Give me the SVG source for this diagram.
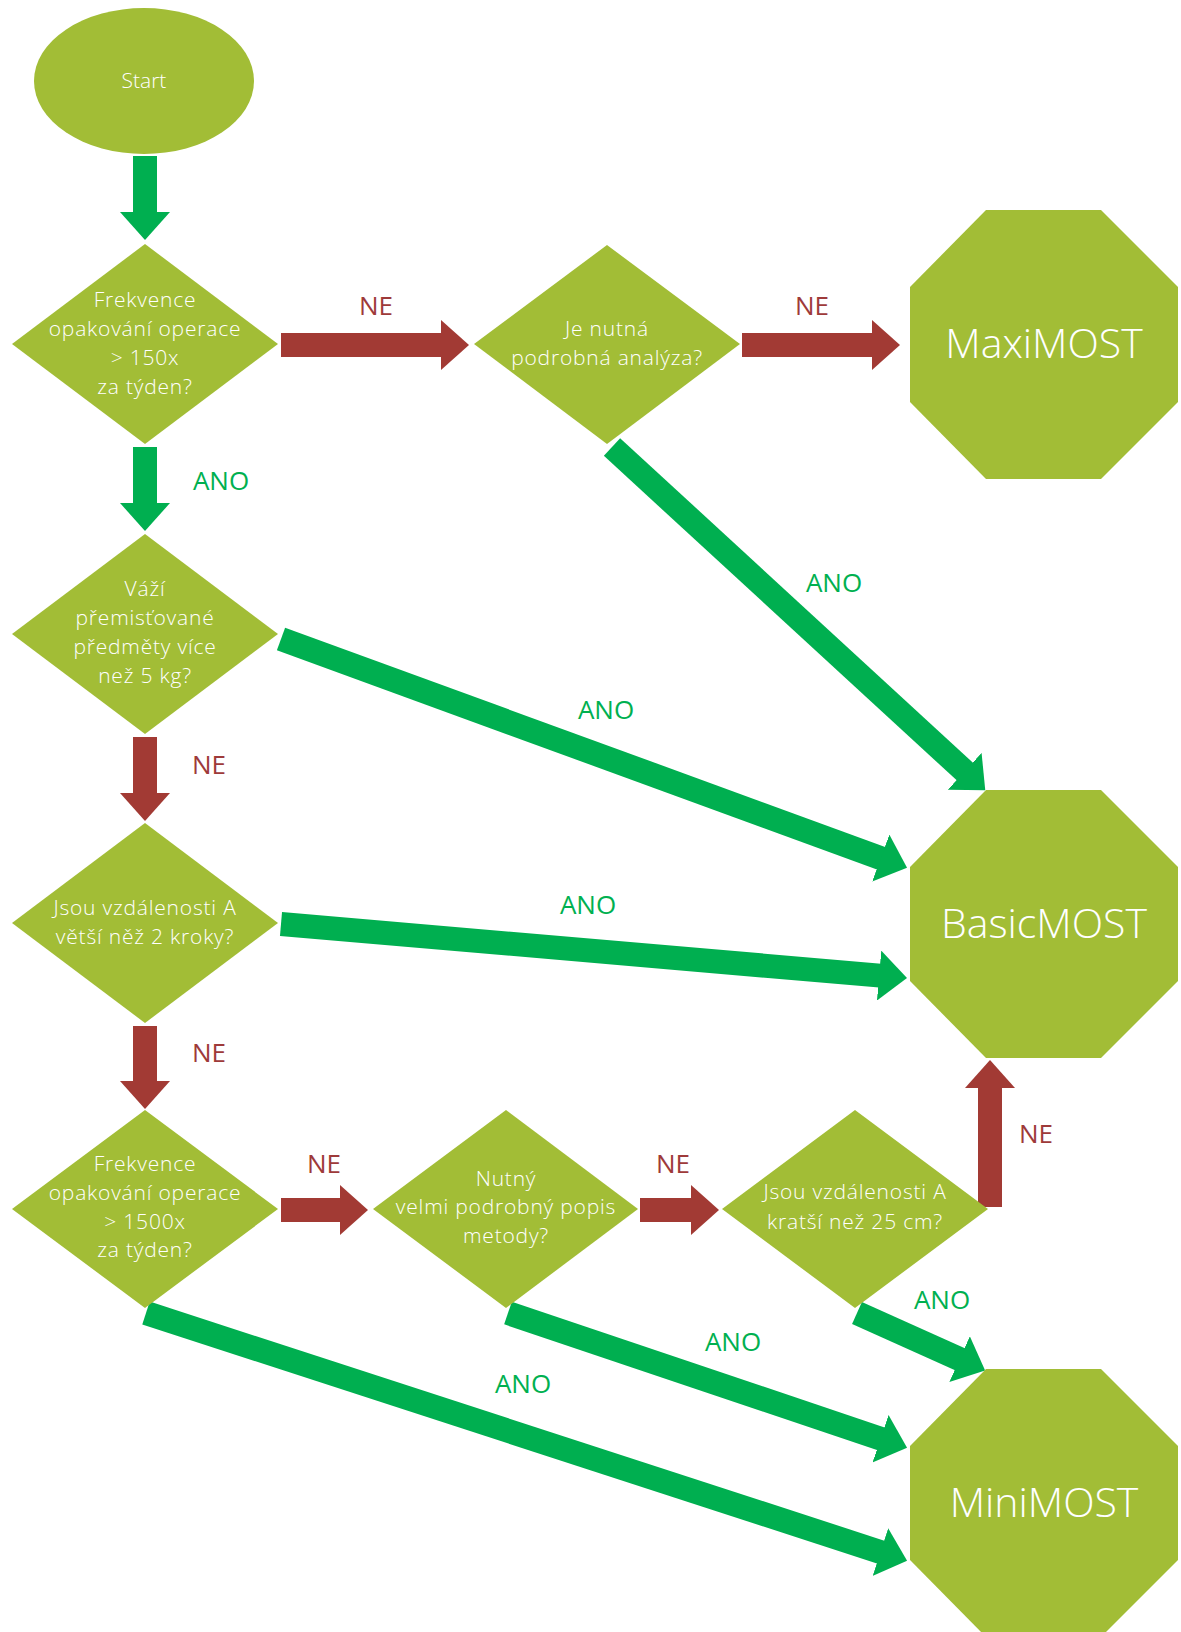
<svg xmlns="http://www.w3.org/2000/svg" width="1181" height="1632" viewBox="0 0 1181 1632">
<style>
.node{fill:#A2BD36}
.t{font-family:"Open Sans","Noto Sans",sans-serif;fill:#ffffff;text-anchor:middle;font-weight:350}
.q{font-size:21px;letter-spacing:0.8px}
.big{font-size:41px;font-weight:300}
.g{stroke:#00AF50;stroke-width:24;fill:none}
.r{stroke:#A23A34;stroke-width:24;fill:none}
.lbl{font-family:"Open Sans","Noto Sans",sans-serif;font-size:26px;text-anchor:middle;font-weight:400}
.ano{fill:#00B050}
.ne{fill:#9E3A3A}
</style>
<defs>
<marker id="hg" markerUnits="userSpaceOnUse" markerWidth="28" markerHeight="50" viewBox="0 0 28 50" refX="1" refY="25" orient="auto"><path d="M0,0 L28,25 L0,50 Z" fill="#00AF50"/></marker>
<marker id="hr" markerUnits="userSpaceOnUse" markerWidth="28" markerHeight="50" viewBox="0 0 28 50" refX="1" refY="25" orient="auto"><path d="M0,0 L28,25 L0,50 Z" fill="#A23A34"/></marker>
</defs>
<g id="connectors">
<line class="g" x1="145" y1="156" x2="145" y2="213" marker-end="url(#hg)"/>
<line class="r" x1="281" y1="345" x2="442" y2="345" marker-end="url(#hr)"/>
<line class="r" x1="742" y1="345" x2="873" y2="345" marker-end="url(#hr)"/>
<line class="g" x1="145" y1="447" x2="145" y2="504" marker-end="url(#hg)"/>
<line class="r" x1="145" y1="737" x2="145" y2="794" marker-end="url(#hr)"/>
<line class="r" x1="145" y1="1026" x2="145" y2="1082" marker-end="url(#hr)"/>
<line class="r" x1="281" y1="1210" x2="341" y2="1210" marker-end="url(#hr)"/>
<line class="r" x1="640" y1="1210" x2="692" y2="1210" marker-end="url(#hr)"/>
<line class="r" x1="990" y1="1207" x2="990" y2="1087" marker-end="url(#hr)"/>
<line class="g" x1="612" y1="447" x2="965.4" y2="772" marker-end="url(#hg)"/>
<line class="g" x1="281" y1="639" x2="881.7" y2="858.4" marker-end="url(#hg)"/>
<line class="g" x1="281" y1="924" x2="880.1" y2="975.6" marker-end="url(#hg)"/>
<line class="g" x1="146" y1="1313" x2="881.4" y2="1552.3" marker-end="url(#hg)"/>
<line class="g" x1="508" y1="1313" x2="881.5" y2="1439" marker-end="url(#hg)"/>
<line class="g" x1="857" y1="1313" x2="960.5" y2="1359.5" marker-end="url(#hg)"/>
<text class="lbl ne" x="376" y="315">NE</text>
<text class="lbl ne" x="812" y="315">NE</text>
<text class="lbl ano" x="221" y="490">ANO</text>
<text class="lbl ne" x="209" y="774">NE</text>
<text class="lbl ne" x="209" y="1062">NE</text>
<text class="lbl ne" x="324" y="1173">NE</text>
<text class="lbl ne" x="673" y="1173">NE</text>
<text class="lbl ne" x="1036" y="1143">NE</text>
<text class="lbl ano" x="834" y="592">ANO</text>
<text class="lbl ano" x="606" y="719">ANO</text>
<text class="lbl ano" x="588" y="914">ANO</text>
<text class="lbl ano" x="523" y="1393">ANO</text>
<text class="lbl ano" x="733" y="1351">ANO</text>
<text class="lbl ano" x="942" y="1309">ANO</text>
</g>
<g id="start">
<ellipse class="node" cx="144" cy="81" rx="110" ry="73"/>
<text class="t" x="144" y="88" font-size="21">Start</text>
</g>
<g id="d1">
<polygon class="node" points="145,244 278,344 145,444 12,344"/>
<text class="t q" x="145" y="307">Frekvence</text>
<text class="t q" x="145" y="336">opakování operace</text>
<text class="t q" x="145" y="365">&gt; 150x</text>
<text class="t q" x="145" y="394">za týden?</text>
</g>
<g id="d2">
<polygon class="node" points="607,245 740,344 607,444 474,344"/>
<text class="t q" x="607" y="336">Je nutná</text>
<text class="t q" x="607" y="365">podrobná analýza?</text>
</g>
<g id="maximost">
<polygon class="node" points="986,210 1101,210 1178,287 1178,402 1101,479 986,479 910,402 910,287"/>
<text class="t big" x="1044" y="358">MaxiMOST</text>
</g>
<g id="d3">
<polygon class="node" points="145,534 278,634 145,734 12,634"/>
<text class="t q" x="145" y="596">Váží</text>
<text class="t q" x="145" y="625">přemisťované</text>
<text class="t q" x="145" y="654">předměty více</text>
<text class="t q" x="145" y="683">než 5 kg?</text>
</g>
<g id="d4">
<polygon class="node" points="145,823 278,923 145,1023 12,923"/>
<text class="t q" x="145" y="915">Jsou vzdálenosti A</text>
<text class="t q" x="145" y="944">větší něž 2 kroky?</text>
</g>
<g id="basicmost">
<polygon class="node" points="986,790 1101,790 1178,867 1178,981 1101,1058 986,1058 910,981 910,867"/>
<text class="t big" x="1044" y="938">BasicMOST</text>
</g>
<g id="d5">
<polygon class="node" points="145,1110 278,1209 145,1308 12,1209"/>
<text class="t q" x="145" y="1171">Frekvence</text>
<text class="t q" x="145" y="1200">opakování operace</text>
<text class="t q" x="145" y="1229">&gt; 1500x</text>
<text class="t q" x="145" y="1257">za týden?</text>
</g>
<g id="d6">
<polygon class="node" points="506,1110 638,1209 506,1308 373,1209"/>
<text class="t q" x="506" y="1186">Nutný</text>
<text class="t q" x="506" y="1214">velmi podrobný popis</text>
<text class="t q" x="506" y="1243">metody?</text>
</g>
<g id="d7">
<polygon class="node" points="855,1110 988,1209 855,1308 722,1209"/>
<text class="t q" x="855" y="1199">Jsou vzdálenosti A</text>
<text class="t q" x="855" y="1229">kratší než 25 cm?</text>
</g>
<g id="minimost">
<polygon class="node" points="986,1369 1101,1369 1178,1446 1178,1560 1101,1637 986,1637 910,1560 910,1446"/>
<text class="t big" x="1044" y="1517">MiniMOST</text>
</g>
</svg>
